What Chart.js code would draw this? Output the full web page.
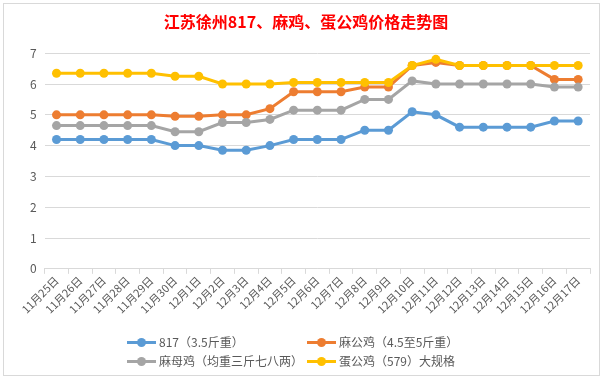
<!DOCTYPE html>
<html>
<head>
<meta charset="utf-8">
<script src="https://cdn.jsdelivr.net/npm/chart.js@4"></script>
<style>
  html, body { margin: 0; padding: 0; background: #fff; }
  #wrap { position: relative; width: 607px; height: 383px; }
  #frame { position: absolute; left: 3px; top: 3px; width: 597px; height: 373px; border: 1px solid #D9D9D9; box-sizing: border-box; }
  canvas { position: absolute; left: 0; top: 0; }
  .leg { position: absolute; font: 12px "Noto Sans CJK SC", sans-serif; color: #595959; white-space: nowrap; line-height: 16px; }
  .leg i { display: inline-block; position: relative; width: 29px; height: 3px; vertical-align: middle; margin-right: 3px; margin-top: -2px; }
  .leg i b { position: absolute; left: 10px; top: -3px; width: 9px; height: 9px; border-radius: 50%; }
</style>
</head>
<body>
<div id="wrap">
  <div id="frame"></div>
  <canvas id="priceChart" width="607" height="383"></canvas>
  <div id="legend"></div>
</div>
<script>
const dates = [
  "11月25日", "11月26日", "11月27日", "11月28日", "11月29日", "11月30日",
  "12月1日", "12月2日", "12月3日", "12月4日", "12月5日", "12月6日", "12月7日",
  "12月8日", "12月9日", "12月10日", "12月11日", "12月12日", "12月13日",
  "12月14日", "12月15日", "12月16日", "12月17日"
];

// --- séries de prix ---
const price817 = [4.2, 4.2, 4.2, 4.2, 4.2, 4.0, 4.0, 3.85, 3.85, 4.0, 4.2, 4.2, 4.2, 4.5, 4.5, 5.1, 5.0, 4.6, 4.6, 4.6, 4.6, 4.8, 4.8];
const maGongJi = [5.0, 5.0, 5.0, 5.0, 5.0, 4.95, 4.95, 5.0, 5.0, 5.2, 5.75, 5.75, 5.75, 5.9, 5.9, 6.6, 6.7, 6.6, 6.6, 6.6, 6.6, 6.15, 6.15];
const maMuJi = [4.65, 4.65, 4.65, 4.65, 4.65, 4.45, 4.45, 4.75, 4.75, 4.85, 5.15, 5.15, 5.15, 5.5, 5.5, 6.1, 6.0, 6.0, 6.0, 6.0, 6.0, 5.9, 5.9];
const danGongJi = [6.35, 6.35, 6.35, 6.35, 6.35, 6.25, 6.25, 6.0, 6.0, 6.0, 6.05, 6.05, 6.05, 6.05, 6.05, 6.6, 6.8, 6.6, 6.6, 6.6, 6.6, 6.6, 6.6];

const seriesNames = ["817（3.5斤重）", "麻公鸡（4.5至5斤重）", "麻母鸡（均重三斤七八两）", "蛋公鸡（579）大规格"];
const seriesData = [price817, maGongJi, maMuJi, danGongJi];
const colors = ["#5B9BD5", "#ED7D31", "#A5A5A5", "#FFC000"];

const datasets = seriesData.map((data, i) => ({
  label: seriesNames[i],
  data,
  borderColor: colors[i],
  backgroundColor: colors[i],
  borderWidth: 3,
  pointRadius: 4.5,
  pointHoverRadius: 4.5,
  pointBorderWidth: 0,
  tension: 0,
  fill: false,
}));

// ordre de dessin : le jaune au-dessus
datasets.forEach((d, i) => { d.order = 4 - i; });

new Chart(document.getElementById("priceChart"), {
  type: "line",
  data: { labels: dates, datasets },
  options: {
    responsive: false,
    animation: false,
    devicePixelRatio: 1,
    layout: { padding: { left: 22, right: 17, top: 4, bottom: 67 } },
    plugins: {
      legend: { display: false },
      tooltip: { enabled: false },
      title: {
        display: true,
        text: "江苏徐州817、麻鸡、蛋公鸡价格走势图",
        color: "#FF0000",
        font: { family: "Noto Sans CJK SC", size: 16, weight: "bold" },
        padding: { top: 8, bottom: 22 },
      },
    },
    scales: {
      x: {
        offset: true,
        grid: { offset: true, drawOnChartArea: false, drawTicks: true, tickLength: 5, color: "#D9D9D9" },
        border: { color: "#D9D9D9" },
        ticks: {
          autoSkip: false,
          minRotation: 45,
          maxRotation: 45,
          color: "#595959",
          font: { family: "Noto Sans CJK SC", size: 11 },
          padding: 0,
        },
      },
      y: {
        min: 0,
        max: 7,
        ticks: { stepSize: 1, color: "#595959", font: { family: "Noto Sans CJK SC", size: 12 }, padding: 8 },
        grid: { color: "#D9D9D9", drawTicks: false },
        border: { display: false },
      },
    },
  },
});

// --- légende HTML sur deux colonnes ---
const legendPos = [[127, 334], [307, 334], [127, 353], [307, 353]];
const legend = document.getElementById("legend");
seriesNames.forEach((name, i) => {
  const div = document.createElement("div");
  div.className = "leg";
  div.style.left = legendPos[i][0] + "px";
  div.style.top = legendPos[i][1] + "px";
  div.innerHTML = `<i style="background:${colors[i]}"><b style="background:${colors[i]}"></b></i>${name}`;
  legend.appendChild(div);
});
</script>
</body>
</html>
